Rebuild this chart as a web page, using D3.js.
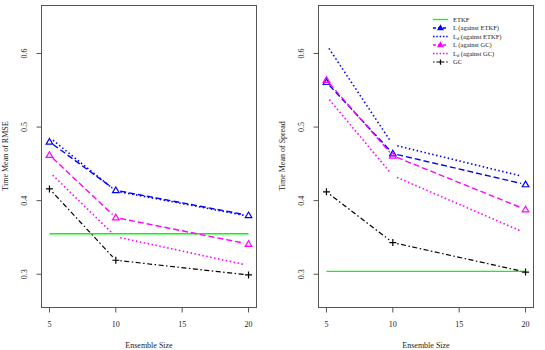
<!DOCTYPE html>
<meta charset="utf-8">
<style>
body { margin: 0; background: #fff; }
svg { font-family: "Liberation Serif", "DejaVu Serif", serif; }
.box { fill: none; stroke: #555; stroke-width: 1; }
.tick line { stroke: #555; }
.lbl { font-size: 8px; fill: #222; }
.leg { font-size: 6.5px; fill: #222; }
</style>
<body>
<script src="https://cdn.jsdelivr.net/npm/d3@7"></script>
<script>

var ensembleSizes = [5, 10, 20],
    xTicks = [5, 10, 15, 20],
    yTicks = [0.3, 0.4, 0.5, 0.6];

// Time mean of RMSE
var rmseETKF   = [0.355, 0.355, 0.355],
    rmseL_ETKF = [0.480, 0.414, 0.380],
    rmseLd_ETKF = [0.486, 0.413, 0.379],
    rmseL_GC   = [0.462, 0.377, 0.341],
    rmseLd_GC  = [0.439, 0.351, 0.312],
    rmseGC     = [0.416, 0.319, 0.299];

// Time mean of spread
var sprETKF   = [0.304, 0.304, 0.304],
    sprL_ETKF = [0.561, 0.464, 0.422],
    sprLd_ETKF = [0.612, 0.476, 0.432],
    sprL_GC   = [0.564, 0.461, 0.388],
    sprLd_GC  = [0.542, 0.434, 0.356],
    sprGC     = [0.412, 0.343, 0.303];

var legendLabels = ["ETKF", "L (against ETKF)", "Ld (against ETKF)", "L (against GC)", "Ld (against GC)", "GC"];

var styles = [
    {color: "#00ff00", dash: null, pch: null, gap: false, w: 1.3},
    {color: "#0000ff", dash: "6,3", pch: "tri", gap: true, w: 1.4},
    {color: "#0000ff", dash: "1.5,2.5", pch: null, gap: true, w: 1.6},
    {color: "#ff00ff", dash: "6,3", pch: "tri", gap: true, w: 1.4},
    {color: "#ff00ff", dash: "1.5,2.5", pch: null, gap: true, w: 1.6},
    {color: "#000000", dash: "1.5,2.5,5,2.5", pch: "plus", gap: true, w: 1.2}
];

var svg = d3.select("body").append("svg")
    .attr("width", 545).attr("height", 350);

function panel(left, right, ytitle, series, titleX, tickX, showLegend) {
    var x = d3.scaleLinear().domain([4.4, 20.6]).range([left, right]);
    var y = d3.scaleLinear().domain([0.2548, 0.6652]).range([307.5, 5.5]);
    var g = svg.append("g");

    g.append("rect").attr("class", "box")
        .attr("x", left).attr("y", 5.5)
        .attr("width", right - left).attr("height", 302);

    // x axis
    var xa = g.append("g").attr("transform", "translate(0,307.5)");
    xa.append("line").attr("x1", x(5)).attr("x2", x(20)).attr("stroke", "#555");
    xa.selectAll(".tick").data(xTicks).enter().append("g").attr("class", "tick")
        .each(function(d) {
            var t = d3.select(this);
            t.append("line").attr("x1", x(d)).attr("x2", x(d)).attr("y1", 0).attr("y2", 5);
            t.append("text").attr("class", "lbl").attr("x", x(d)).attr("y", 19)
                .attr("text-anchor", "middle").text(d);
        });
    g.append("text").attr("class", "lbl").attr("x", (left + right) / 2).attr("y", 348)
        .attr("text-anchor", "middle").text("Ensemble Size");

    // y axis
    var ya = g.append("g").attr("transform", "translate(" + left + ",0)");
    ya.selectAll(".tick").data(yTicks).enter().append("g").attr("class", "tick")
        .each(function(d) {
            var t = d3.select(this);
            t.append("line").attr("x1", 0).attr("x2", -5).attr("y1", y(d)).attr("y2", y(d));
            t.append("text").attr("class", "lbl")
                .attr("transform", "translate(" + (tickX - left) + "," + y(d) + ") rotate(-90)")
                .attr("text-anchor", "middle").text(d.toFixed(1));
        });
    g.append("text").attr("class", "lbl")
        .attr("transform", "translate(" + titleX + ",156) rotate(-90)")
        .attr("text-anchor", "middle").text(ytitle);

    series.forEach(function(vals, i) {
        var s = styles[i];
        var pts = ensembleSizes.map(function(e, j) { return [x(e), y(vals[j])]; });
        var segs = [];
        if (!s.gap) {
            segs.push([pts[0], pts[pts.length - 1]]);
        } else {
            for (var j = 0; j < pts.length - 1; j++) {
                var a = pts[j], b = pts[j + 1];
                var dx = b[0] - a[0], dy = b[1] - a[1], L = Math.sqrt(dx * dx + dy * dy);
                var r = 4.5 / L;
                segs.push([[a[0] + dx * r, a[1] + dy * r], [b[0] - dx * r, b[1] - dy * r]]);
            }
        }
        g.selectAll(null).data(segs).enter().append("line")
            .attr("x1", function(d) { return d[0][0]; }).attr("y1", function(d) { return d[0][1]; })
            .attr("x2", function(d) { return d[1][0]; }).attr("y2", function(d) { return d[1][1]; })
            .attr("stroke", s.color).attr("stroke-width", s.w)
            .attr("stroke-dasharray", s.dash);
        if (s.pch) drawMarks(g, pts, s);
    });

    if (showLegend) {
        var lg = g.append("g");
        legendLabels.forEach(function(lab, i) {
            var s = styles[i], yy = 19.5 + i * 8.5;
            lg.append("line").attr("x1", 433).attr("x2", 448).attr("y1", yy).attr("y2", yy)
                .attr("stroke", s.color).attr("stroke-width", s.w)
                .attr("stroke-dasharray", s.dash ? (s.dash === "6,3" ? "3,2" : "1.5,1.8") : null);
            if (s.pch) drawMarks(lg, [[440.5, yy]], s, 0.75, true);
            var t = lg.append("text").attr("class", "leg").attr("x", 453).attr("y", yy + 2.3);
            if (lab.indexOf("Ld") === 0) {
                t.append("tspan").text("L");
                t.append("tspan").attr("dy", 1.5).attr("font-size", "4.5px").text("d");
                t.append("tspan").attr("dy", -1.5).text(lab.slice(2));
            } else {
                t.text(lab);
            }
        });
    }
}

function drawMarks(g, pts, s, k, filled) {
    k = k || 1;
    pts.forEach(function(p) {
        if (s.pch === "tri") {
            var h = 3.3 * k;
            g.append("path")
                .attr("d", "M" + p[0] + "," + (p[1] - h) + "L" + (p[0] + h) + "," + (p[1] + h * 0.7) +
                    "L" + (p[0] - h) + "," + (p[1] + h * 0.7) + "Z")
                .attr("fill", filled ? s.color : "none").attr("stroke", s.color).attr("stroke-width", 1.2);
        } else {
            var r = 3.5 * k;
            g.append("path")
                .attr("d", "M" + (p[0] - r) + "," + p[1] + "H" + (p[0] + r) + "M" + p[0] + "," + (p[1] - r) + "V" + (p[1] + r))
                .attr("stroke", s.color).attr("stroke-width", 1.2);
        }
    });
}

panel(41.5, 256.5, "Time Mean of RMSE",
    [rmseETKF, rmseL_ETKF, rmseLd_ETKF, rmseL_GC, rmseLd_GC, rmseGC], 8, 27, false);
panel(318.5, 533.5, "Time Mean of Spread",
    [sprETKF, sprL_ETKF, sprLd_ETKF, sprL_GC, sprLd_GC, sprGC], 285, 304, true);

</script>
